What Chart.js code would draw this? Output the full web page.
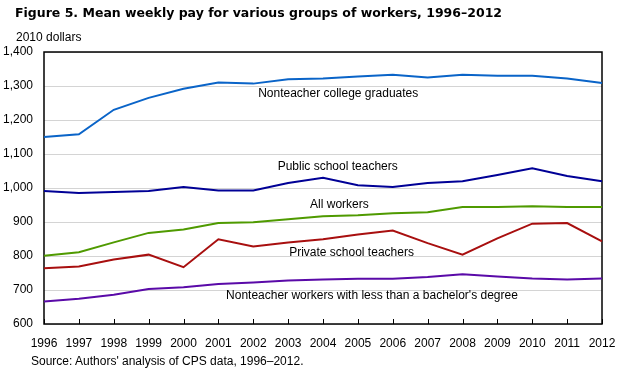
<!DOCTYPE html>
<html>
<head>
<meta charset="utf-8">
<script src="https://cdn.jsdelivr.net/npm/chart.js@4"></script>
<style>
  body { margin: 0; background: #fff; }
  #wrap { position: relative; width: 624px; height: 375px; background: #fff; }
  #chart { position: absolute; left: 0; top: 0; }
  .txt { position: absolute; color: #000; white-space: nowrap; font-family: "Liberation Sans", Arial, sans-serif; }
  #title { left: 15px; top: 5px; font-family: "DejaVu Sans", sans-serif; font-weight: bold; font-size: 12.5px; }
  #units { left: 16px; top: 30px; font-size: 12px; }
  #source { left: 31px; top: 354px; font-size: 12px; }
</style>
</head>
<body>
<div id="wrap">
  <canvas id="chart" width="624" height="375"></canvas>
  <div id="title" class="txt">Figure 5. Mean weekly pay for various groups of workers, 1996–2012</div>
  <div id="units" class="txt">2010 dollars</div>
  <div id="source" class="txt">Source: Authors' analysis of CPS data, 1996–2012.</div>
</div>
<script>
const years = ["1996", "1997", "1998", "1999", "2000", "2001", "2002", "2003", "2004",
  "2005", "2006", "2007", "2008", "2009", "2010", "2011", "2012"];

const collegeGrads = [1150, 1158, 1230, 1265, 1292, 1310, 1307, 1320, 1322, 1328, 1333, 1325, 1333, 1330, 1330, 1322, 1309];
const publicTeachers = [991, 985, 988, 991, 1003, 993, 993, 1015, 1030, 1008, 1003, 1015, 1020, 1038, 1058, 1035, 1020];
const allWorkers = [801, 811, 840, 868, 878, 897, 899, 908, 917, 920, 926, 929, 944, 944, 946, 944, 944];
const privateTeachers = [764, 769, 790, 804, 767, 849, 828, 840, 849, 863, 875, 838, 804, 852, 895, 897, 843];
const lessThanBA = [666, 674, 686, 703, 708, 718, 722, 728, 731, 733, 733, 738, 746, 740, 734, 731, 734];

const yTicks = [600, 700, 800, 900, 1000, 1100, 1200, 1300, 1400];

// 線の横に置くラベル（位置は年のインデックスと値で指定）
const seriesLabels = [
  { text: "Nonteacher college graduates", at: 6.14, value: 1277 },
  { text: "Public school teachers", at: 6.70, value: 1062 },
  { text: "All workers", at: 7.63, value: 952 },
  { text: "Private school teachers", at: 7.03, value: 810 },
  { text: "Nonteacher workers with less than a bachelor's degree", at: 5.22, value: 684 },
];

const font = { family: "Liberation Sans", size: 12 };

const framePlugin = {
  id: "frame",
  beforeDatasetsDraw(chart) {
    const { ctx, chartArea, scales } = chart;
    const { left, top, right, bottom } = chartArea;
    ctx.save();
    ctx.strokeStyle = "#000";
    ctx.lineWidth = 1.5;
    ctx.strokeRect(left, top, right - left, bottom - top);
    // x軸の目盛りは内側に
    ctx.lineWidth = 1;
    ctx.beginPath();
    years.forEach((_, i) => {
      const px = Math.round(scales.x.getPixelForValue(i)) + 0.5;
      ctx.moveTo(px, bottom);
      ctx.lineTo(px, bottom - 5);
    });
    ctx.stroke();
    ctx.restore();
  },
  afterDatasetsDraw(chart) {
    const { ctx, scales } = chart;
    ctx.save();
    ctx.fillStyle = "#000";
    ctx.font = `${font.size}px ${font.family}`;
    ctx.textAlign = "left";
    ctx.textBaseline = "middle";
    for (const l of seriesLabels) {
      ctx.fillText(l.text, scales.x.getPixelForValue(l.at), scales.y.getPixelForValue(l.value));
    }
    ctx.restore();
  },
};

function line(data, color) {
  return {
    data,
    borderColor: color,
    backgroundColor: color,
    borderWidth: 2,
    pointRadius: 0,
    tension: 0,
  };
}

new Chart(document.getElementById("chart"), {
  type: "line",
  data: {
    labels: years,
    datasets: [
      line(collegeGrads, "#0a64c8"),
      line(publicTeachers, "#000096"),
      line(allWorkers, "#4f9a00"),
      line(privateTeachers, "#a80f0f"),
      line(lessThanBA, "#5a0aa8"),
    ],
  },
  options: {
    responsive: false,
    animation: false,
    devicePixelRatio: 1,
    layout: { padding: { top: 52, right: 22, bottom: 0, left: 0 } },
    plugins: { legend: { display: false }, tooltip: { enabled: false } },
    scales: {
      x: {
        offset: false,
        grid: { display: false, drawTicks: false },
        border: { display: false },
        ticks: { color: "#000", font, padding: 12, autoSkip: false, maxRotation: 0 },
        afterFit(scale) {
          scale.height = 51;
          scale.paddingLeft = 0;
          scale.paddingRight = 0;
        },
      },
      y: {
        min: 600,
        max: 1400,
        afterBuildTicks(scale) { scale.ticks = yTicks.map((v) => ({ value: v })); },
        grid: { color: "#d4d4d4", lineWidth: 1, drawTicks: false },
        border: { display: false },
        ticks: {
          color: "#000",
          font,
          padding: 11,
          callback: (v) => v.toLocaleString("en-US"),
        },
        afterFit(scale) {
          scale.width = 44;
          scale.paddingTop = 0;
          scale.paddingBottom = 0;
        },
      },
    },
  },
  plugins: [framePlugin],
});
</script>
</body>
</html>
